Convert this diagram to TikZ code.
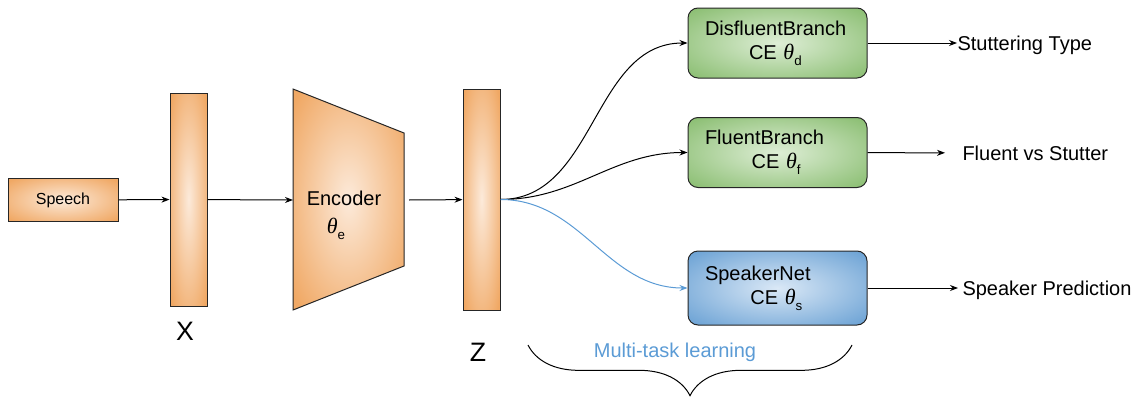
\documentclass[tikz,border=0pt]{standalone}
\usepackage{fontspec}
\setmainfont{Liberation Sans}
\newfontfamily\thetafont{Liberation Serif}
\usetikzlibrary{positioning}
\usetikzlibrary{arrows.meta}
\usetikzlibrary{decorations.pathreplacing}

\definecolor{orangeout}{RGB}{240,168,100}
\definecolor{orangein}{RGB}{252,234,218}
\definecolor{greenout}{RGB}{142,192,118}
\definecolor{greenin}{RGB}{222,238,214}
\definecolor{blueout}{RGB}{112,165,214}
\definecolor{bluein}{RGB}{218,232,246}
\definecolor{mtlblue}{RGB}{91,155,213}

% glows that reach the outer colour only in the corners
\pgfdeclareradialshading{orangeglow}{\pgfpoint{0bp}{0bp}}{color(0bp)=(orangein); color(33bp)=(orangeout); color(50bp)=(orangeout)}
\pgfdeclareradialshading{greenglow}{\pgfpoint{0bp}{0bp}}{color(0bp)=(greenin); color(33bp)=(greenout); color(50bp)=(greenout)}
\pgfdeclareradialshading{blueglow}{\pgfpoint{0bp}{0bp}}{color(0bp)=(bluein); color(33bp)=(blueout); color(50bp)=(blueout)}

% parameter symbol with a lowered index
\newcommand{\paramsym}[1]{{\fontsize{16.5}{18}\thetafont\itshape θ}\raisebox{-4.5pt}{\fontsize{10}{12}\selectfont #1}}

\tikzset{
  layer/.style={draw=black!85, line width=0.75pt, shading=orangeglow, inner sep=0pt},
  branch/.style={draw=black!85, line width=0.75pt, rounded corners=7.5pt,
    minimum width=134.25pt, minimum height=52.5pt,
    text width=108.75pt, inner xsep=12.75pt, align=left,
    font=\fontsize{15}{18}\selectfont},
  outlabel/.style={inner sep=0pt, anchor=west, text height=10.7pt, text depth=0pt,
    font=\fontsize{15}{18}\selectfont},
}

\begin{document}
\begin{tikzpicture}[x=0.75pt, y=-0.75pt, >={Stealth[length=6pt,width=4.5pt]}, line width=0.75pt]
    \useasboundingbox (0,0) rectangle (1141,396);

    % input and feature layers
    \node[layer, minimum width=82.5pt, minimum height=32.25pt,
          font=\fontsize{12}{14}\selectfont] at (63,200) (Speech) {Speech};
    \node[layer, minimum width=27.75pt, minimum height=159.75pt] at (188.5,199.5) (X) {};
    \node[layer, minimum width=27.75pt, minimum height=165.75pt] at (481.5,199.5) (Z) {};
    \node[font=\fontsize{20}{24}\selectfont] at (185,331) (Xlabel) {X};
    \node[font=\fontsize{20}{24}\selectfont] at (478,352) (Zlabel) {Z};

    % encoder
    \shadedraw[draw=black!85, shading=orangeglow]
        (293,89) -- (404,133) -- (404,266) -- (293,310) -- cycle;
    \coordinate (EncIn)  at (293,200);
    \coordinate (EncOut) at (409,200);
    \node[align=center, font=\fontsize{15}{18}\selectfont] at (344,215) (Encoder)
        {Encoder\\[3pt]\hspace*{-12pt}\paramsym{e}};

    % task heads
    \node[branch, shading=greenglow] at (777.5,43) (Disfluent)
        {DisfluentBranch\\\hspace*{33pt}CE \paramsym{d}};
    \node[branch, shading=greenglow] at (777.5,152.5) (Fluent)
        {FluentBranch\\\hspace*{35pt}CE \paramsym{f}};
    \node[branch, shading=blueglow, minimum height=55.5pt] at (777.5,288) (Speaker)
        {SpeakerNet\\\hspace*{34pt}CE \paramsym{s}};

    % outputs
    \node[outlabel] at (957,43)  (StutterType) {Stuttering Type};
    \node[outlabel] at (962,153) (FluentVs)    {Fluent vs Stutter};
    \node[outlabel] at (962,288) (SpeakerPred) {Speaker Prediction};

    \draw [->] (Speech) -- (X);
    \draw [->] (X) -- (EncIn);
    \draw [->] (EncOut) -- (Z);

    \draw [->] (Z.east) to[out=0, in=180] (Disfluent.west);
    \draw [->] (Z.east) to[out=0, in=180] (Fluent.west);
    \draw [->, draw=mtlblue] (Z.east) to[out=0, in=180] (Speaker.west);

    \draw [->] (Disfluent) -- (StutterType);
    \draw [->, shorten >=12.75pt] (Fluent) -- (FluentVs);
    \draw [->, shorten >=3pt] (Speaker) -- (SpeakerPred);

    % multi-task brace
    \coordinate (BraceL) at (528,345);
    \coordinate (BraceR) at (852,345);
    \draw [decorate, decoration={brace, mirror, amplitude=38pt}] (BraceL) -- (BraceR);
    \node[text=mtlblue, font=\fontsize{15}{18}\selectfont] at (675,352) (MTL) {Multi-task learning};
\end{tikzpicture}
\end{document}
